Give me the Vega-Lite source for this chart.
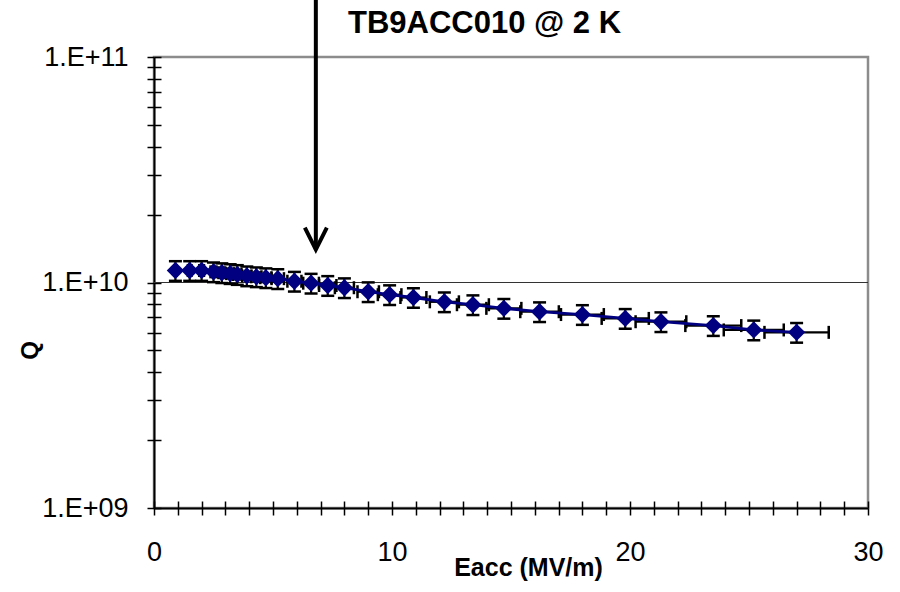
{
  "$schema": "https://vega.github.io/schema/vega-lite/v6.json",
  "width": 714,
  "height": 451,
  "autosize": {"type": "none"},
  "padding": {"left": 154, "top": 57, "right": 32, "bottom": 84},
  "background": "white",
  "config": {
    "view": {"stroke": "#8c8c8c", "strokeWidth": 2.5},
    "font": "Liberation Sans"
  },
  "datasets": {
    "q": [
      {"E": 0.9, "Q": 1.13e10, "Qlo": 1.017e10, "Qhi": 1.243e10, "Elo": 0.855, "Ehi": 0.945},
      {"E": 1.5, "Q": 1.13e10, "Qlo": 1.017e10, "Qhi": 1.243e10, "Elo": 1.425, "Ehi": 1.575},
      {"E": 2.0, "Q": 1.13e10, "Qlo": 1.017e10, "Qhi": 1.243e10, "Elo": 1.9, "Ehi": 2.1},
      {"E": 2.5, "Q": 1.115e10, "Qlo": 1.0035e10, "Qhi": 1.2265e10, "Elo": 2.375, "Ehi": 2.625},
      {"E": 2.85, "Q": 1.105e10, "Qlo": 0.9945e10, "Qhi": 1.2155e10, "Elo": 2.7075, "Ehi": 2.9925},
      {"E": 3.2, "Q": 1.095e10, "Qlo": 0.9855e10, "Qhi": 1.2045e10, "Elo": 3.04, "Ehi": 3.36},
      {"E": 3.5, "Q": 1.085e10, "Qlo": 0.9765e10, "Qhi": 1.1935e10, "Elo": 3.325, "Ehi": 3.675},
      {"E": 3.9, "Q": 1.07e10, "Qlo": 0.963e10, "Qhi": 1.177e10, "Elo": 3.705, "Ehi": 4.095},
      {"E": 4.3, "Q": 1.06e10, "Qlo": 0.954e10, "Qhi": 1.166e10, "Elo": 4.085, "Ehi": 4.515},
      {"E": 4.7, "Q": 1.05e10, "Qlo": 0.945e10, "Qhi": 1.155e10, "Elo": 4.465, "Ehi": 4.935},
      {"E": 5.2, "Q": 1.04e10, "Qlo": 0.936e10, "Qhi": 1.144e10, "Elo": 4.94, "Ehi": 5.46},
      {"E": 5.9, "Q": 1.013e10, "Qlo": 0.9117e10, "Qhi": 1.1143e10, "Elo": 5.605, "Ehi": 6.195},
      {"E": 6.6, "Q": 0.993e10, "Qlo": 0.8937e10, "Qhi": 1.0923e10, "Elo": 6.27, "Ehi": 6.93},
      {"E": 7.3, "Q": 0.97e10, "Qlo": 0.873e10, "Qhi": 1.067e10, "Elo": 6.935, "Ehi": 7.665},
      {"E": 8.0, "Q": 0.948e10, "Qlo": 0.8532e10, "Qhi": 1.0428e10, "Elo": 7.6, "Ehi": 8.4},
      {"E": 9.0, "Q": 0.91e10, "Qlo": 0.819e10, "Qhi": 1.001e10, "Elo": 8.55, "Ehi": 9.45},
      {"E": 9.9, "Q": 0.883e10, "Qlo": 0.7947e10, "Qhi": 0.9713e10, "Elo": 9.405, "Ehi": 10.395},
      {"E": 10.9, "Q": 0.858e10, "Qlo": 0.7722e10, "Qhi": 0.9438e10, "Elo": 10.355, "Ehi": 11.445},
      {"E": 12.2, "Q": 0.821e10, "Qlo": 0.7389e10, "Qhi": 0.9031e10, "Elo": 11.59, "Ehi": 12.81},
      {"E": 13.4, "Q": 0.797e10, "Qlo": 0.7173e10, "Qhi": 0.8767e10, "Elo": 12.73, "Ehi": 14.07},
      {"E": 14.7, "Q": 0.768e10, "Qlo": 0.6912e10, "Qhi": 0.8448e10, "Elo": 13.965, "Ehi": 15.435},
      {"E": 16.2, "Q": 0.742e10, "Qlo": 0.6678e10, "Qhi": 0.8162e10, "Elo": 15.39, "Ehi": 17.01},
      {"E": 18.0, "Q": 0.721e10, "Qlo": 0.6489e10, "Qhi": 0.7931e10, "Elo": 17.1, "Ehi": 18.9},
      {"E": 19.8, "Q": 0.693e10, "Qlo": 0.6237e10, "Qhi": 0.7623e10, "Elo": 18.81, "Ehi": 20.79},
      {"E": 21.3, "Q": 0.67e10, "Qlo": 0.603e10, "Qhi": 0.737e10, "Elo": 20.235, "Ehi": 22.365},
      {"E": 23.5, "Q": 0.644e10, "Qlo": 0.5796e10, "Qhi": 0.7084e10, "Elo": 22.325, "Ehi": 24.675},
      {"E": 25.2, "Q": 0.616e10, "Qlo": 0.5544e10, "Qhi": 0.6776e10, "Elo": 23.94, "Ehi": 26.46},
      {"E": 27.0, "Q": 0.601e10, "Qlo": 0.5409e10, "Qhi": 0.6611e10, "Elo": 25.65, "Ehi": 28.35}
    ],
    "arrow": [
      {"E": 6.8, "Qtip": 1.4e10, "Qtop": 1.79e11}
    ]
  },
  "data": {"name": "q"},
  "resolve": {"axis": {"x": "independent", "y": "independent"}},
  "layer": [
    {
      "mark": {"type": "rule", "color": "#333333", "strokeWidth": 1},
      "encoding": {
        "y": {"datum": 1e10, "type": "quantitative", "scale": {"type": "log", "domain": [1e9, 1e11]}, "axis": null}
      }
    },
    {
      "mark": {"type": "rule", "color": "black", "strokeWidth": 2.2},
      "encoding": {
        "x": {
          "field": "E", "type": "quantitative",
          "scale": {"domain": [0, 30], "nice": false, "zero": false},
          "axis": {
            "orient": "bottom",
            "values": [0,1,2,3,4,5,6,7,8,9,10,11,12,13,14,15,16,17,18,19,20,21,22,23,24,25,26,27,28,29,30],
            "labelExpr": "datum.value % 10 === 0 ? datum.label : ''",
            "labelFont": "Liberation Sans", "labelFontSize": 27, "labelColor": "black",
            "labelPadding": 24, "labelFlush": false, "labelOverlap": false,
            "tickSize": 7, "tickColor": "black", "tickWidth": 1.5,
            "domainColor": "black", "domainWidth": 2,
            "grid": false,
            "title": "Eacc (MV/m)",
            "titleFont": "Liberation Sans", "titleFontSize": 25, "titleFontWeight": "bold", "titleColor": "black",
            "titleX": 374, "titleY": 67, "titleAlign": "center", "titleBaseline": "alphabetic"
          }
        },
        "y": {
          "field": "Qlo", "type": "quantitative",
          "scale": {"type": "log", "domain": [1e9, 1e11]},
          "axis": {
            "orient": "left",
            "values": [1e9,2e9,3e9,4e9,5e9,6e9,7e9,8e9,9e9,1e10,2e10,3e10,4e10,5e10,6e10,7e10,8e10,9e10,1e11],
            "labelExpr": "datum.value == 1e9 ? '1.E+09' : datum.value == 1e10 ? '1.E+10' : datum.value == 1e11 ? '1.E+11' : ''",
            "labelFont": "Liberation Sans", "labelFontSize": 27, "labelColor": "black",
            "labelPadding": 19, "labelFlush": false, "labelOverlap": false, "labelBaseline": "middle",
            "tickSize": 7, "tickColor": "black", "tickWidth": 1.5,
            "domainColor": "black", "domainWidth": 2,
            "grid": false,
            "title": "Q",
            "titleFont": "Liberation Sans", "titleFontSize": 24, "titleFontWeight": "bold", "titleColor": "black",
            "titleX": -124, "titleY": 293, "titleAlign": "center", "titleBaseline": "middle", "titleAngle": -90
          }
        },
        "y2": {"field": "Qhi"}
      }
    },
    {
      "mark": {"type": "tick", "orient": "horizontal", "color": "black", "size": 13, "thickness": 2.5, "opacity": 1},
      "encoding": {
        "x": {"field": "E", "type": "quantitative", "axis": null},
        "y": {"field": "Qhi", "type": "quantitative", "axis": null}
      }
    },
    {
      "mark": {"type": "tick", "orient": "horizontal", "color": "black", "size": 13, "thickness": 2.5, "opacity": 1},
      "encoding": {
        "x": {"field": "E", "type": "quantitative", "axis": null},
        "y": {"field": "Qlo", "type": "quantitative", "axis": null}
      }
    },
    {
      "mark": {"type": "rule", "color": "black", "strokeWidth": 2.2},
      "encoding": {
        "x": {"field": "Elo", "type": "quantitative", "axis": null},
        "x2": {"field": "Ehi"},
        "y": {"field": "Q", "type": "quantitative", "axis": null}
      }
    },
    {
      "mark": {"type": "tick", "orient": "vertical", "color": "black", "size": 13, "thickness": 2.5, "opacity": 1},
      "encoding": {
        "x": {"field": "Elo", "type": "quantitative", "axis": null},
        "y": {"field": "Q", "type": "quantitative", "axis": null}
      }
    },
    {
      "mark": {"type": "tick", "orient": "vertical", "color": "black", "size": 13, "thickness": 2.5, "opacity": 1},
      "encoding": {
        "x": {"field": "Ehi", "type": "quantitative", "axis": null},
        "y": {"field": "Q", "type": "quantitative", "axis": null}
      }
    },
    {
      "mark": {"type": "line", "color": "#000080", "strokeWidth": 2.8},
      "encoding": {
        "x": {
          "field": "E", "type": "quantitative",
          "scale": {"domain": [0, 30], "nice": false, "zero": false},
          "axis": {
            "orient": "bottom", "offset": -7,
            "values": [0,1,2,3,4,5,6,7,8,9,10,11,12,13,14,15,16,17,18,19,20,21,22,23,24,25,26,27,28,29,30],
            "labels": false, "domain": false, "grid": false, "title": null,
            "tickSize": 7, "tickColor": "black", "tickWidth": 1.5
          }
        },
        "y": {
          "field": "Q", "type": "quantitative",
          "scale": {"type": "log", "domain": [1e9, 1e11]},
          "axis": {
            "orient": "left", "offset": -7,
            "values": [1e9,2e9,3e9,4e9,5e9,6e9,7e9,8e9,9e9,1e10,2e10,3e10,4e10,5e10,6e10,7e10,8e10,9e10,1e11],
            "labels": false, "domain": false, "grid": false, "title": null,
            "tickSize": 7, "tickColor": "black", "tickWidth": 1.5
          }
        }
      }
    },
    {
      "mark": {"type": "point", "shape": "diamond", "filled": true, "color": "#000080", "size": 300, "opacity": 1},
      "encoding": {
        "x": {"field": "E", "type": "quantitative", "axis": null},
        "y": {"field": "Q", "type": "quantitative", "axis": null}
      }
    },
    {
      "data": {"name": "arrow"},
      "mark": {"type": "rule", "color": "black", "strokeWidth": 4},
      "encoding": {
        "x": {"field": "E", "type": "quantitative", "axis": null},
        "y": {"field": "Qtip", "type": "quantitative", "axis": null},
        "y2": {"field": "Qtop"}
      }
    },
    {
      "data": {"name": "arrow"},
      "mark": {"type": "point", "shape": "M-0.5,-1L0,0L0.5,-1", "filled": false, "stroke": "black", "strokeWidth": 4, "size": 1936, "opacity": 1, "strokeJoin": "miter"},
      "encoding": {
        "x": {"field": "E", "type": "quantitative", "axis": null},
        "y": {"field": "Qtip", "type": "quantitative", "axis": null}
      }
    },
    {
      "data": {"values": [{"label": "TB9ACC010 @ 2 K"}]},
      "mark": {"type": "text", "font": "Liberation Sans", "fontSize": 31, "fontWeight": "bold", "color": "black", "align": "left", "baseline": "alphabetic"},
      "encoding": {
        "text": {"field": "label"},
        "x": {"datum": 8.15, "type": "quantitative", "axis": null},
        "y": {"datum": 1.277e11, "type": "quantitative", "axis": null}
      }
    }
  ]
}
